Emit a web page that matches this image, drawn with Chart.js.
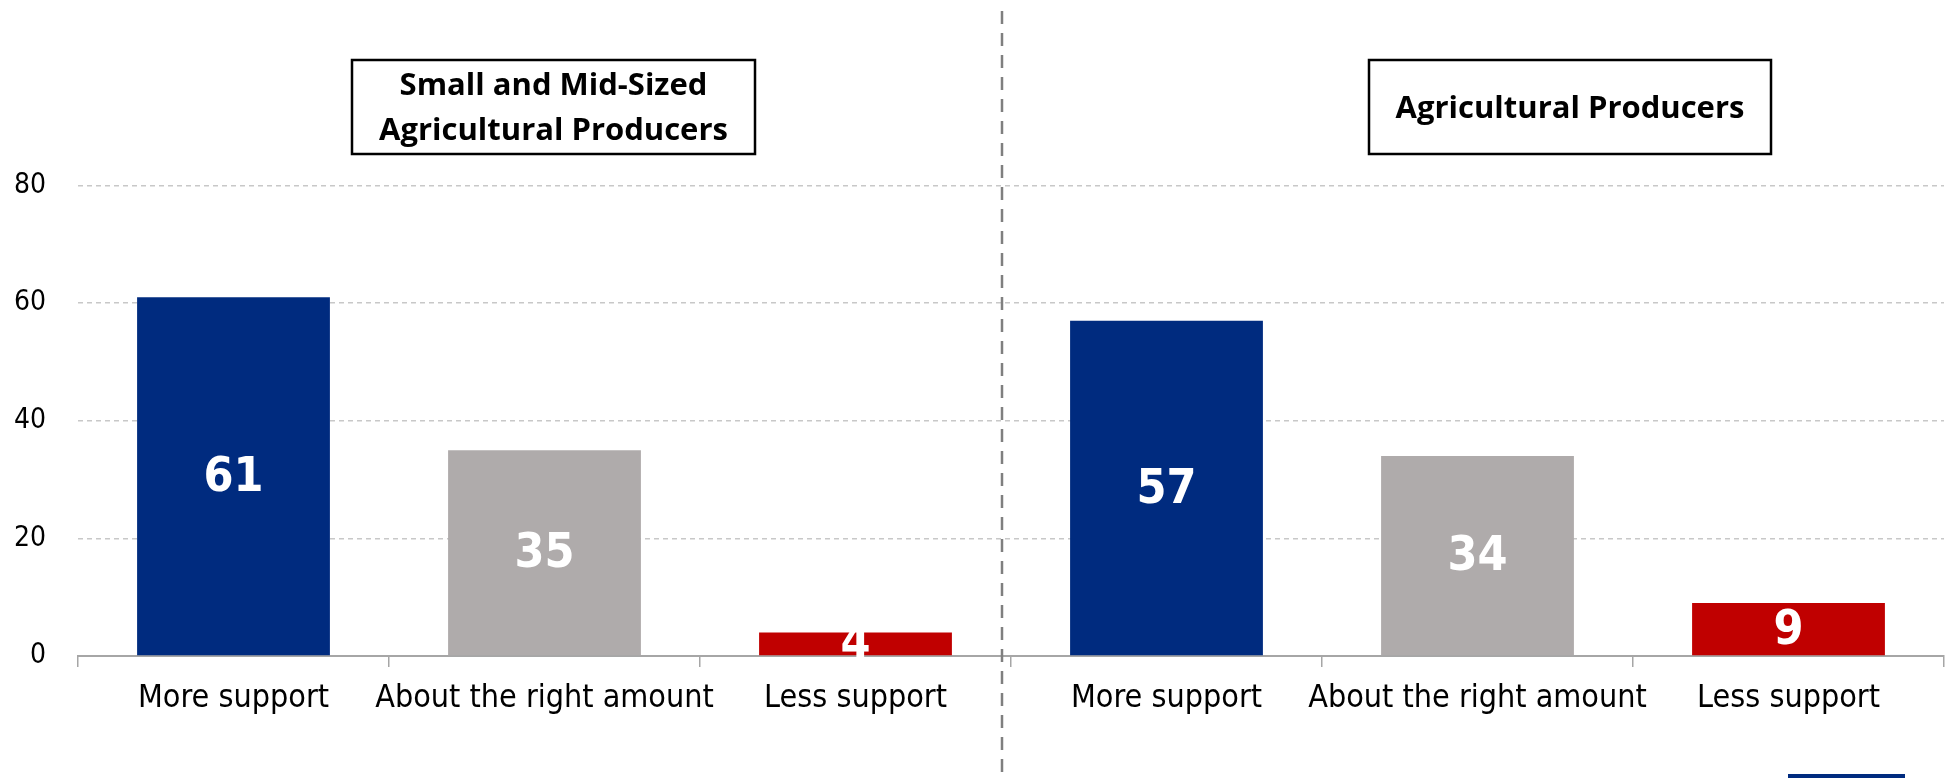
<!DOCTYPE html>
<html><head><meta charset="utf-8">
<script src="https://cdn.jsdelivr.net/npm/chart.js@4.4.1/dist/chart.umd.min.js"></script>
<style>html,body{margin:0;padding:0;background:#fff}canvas{display:block}</style>
</head><body>
<canvas id="c" width="1950" height="778"></canvas>
<script>
// ---- data ----
const categories = ['More support', 'About the right amount', 'Less support'];
const groupTitles = [['Small and Mid-Sized', 'Agricultural Producers'], ['Agricultural Producers']];
const smallMidValues = [61, 35, 4];
const producerValues = [57, 34, 9];
const yTickStep = 20;
const yMax = 100;
const barColors = ['#002B7F', '#AFABAB', '#C00000'];

const labels = [...categories, ...categories];
const values = [...smallMidValues, ...producerValues];
const colors = [...barColors, ...barColors];

const NARROW = "'Liberation Sans Narrow', 'Arial Narrow', 'DejaVu Sans Condensed', sans-serif";
const TITLEFONT = "'Open Sans', Lato, sans-serif";

const valueLabels = {
  id: 'valueLabels',
  afterDatasetsDraw(chart) {
    const ctx = chart.ctx;
    const meta = chart.getDatasetMeta(0);
    ctx.save();
    ctx.fillStyle = '#FFFFFF';
    ctx.font = "bold 48px " + NARROW;
    ctx.textAlign = 'center';
    ctx.textBaseline = 'middle';
    meta.data.forEach((bar, i) => {
      const p = bar.getProps(['x', 'y', 'base'], true);
      ctx.fillText(String(values[i]), p.x, (p.y + p.base) / 2 + 2);
    });
    ctx.restore();
  }
};

const decorations = {
  id: 'decorations',
  afterDraw(chart) {
    const ctx = chart.ctx;
    ctx.save();
    // divider between the two groups
    ctx.strokeStyle = '#7F7F7F';
    ctx.lineWidth = 2.5;
    ctx.setLineDash([13, 9]);
    ctx.beginPath();
    ctx.moveTo(1002, 11);
    ctx.lineTo(1002, 778);
    ctx.stroke();
    ctx.setLineDash([]);
    // group title boxes
    const boxes = [{x: 352, y: 60, w: 403, h: 94}, {x: 1369, y: 60, w: 402, h: 94}];
    ctx.strokeStyle = '#000';
    ctx.lineWidth = 2.5;
    ctx.fillStyle = '#000';
    ctx.font = "bold 31px " + TITLEFONT;
    ctx.textAlign = 'center';
    ctx.textBaseline = 'middle';
    boxes.forEach((b, i) => {
      ctx.strokeRect(b.x, b.y, b.w, b.h);
      const lines = groupTitles[i];
      const lh = 45;
      const cy = b.y + b.h / 2 + 2;
      lines.forEach((t, j) => {
        ctx.fillText(t, b.x + b.w / 2, cy + (j - (lines.length - 1) / 2) * lh);
      });
    });
    // cut-off blue line at the bottom right
    ctx.fillStyle = '#002B7F';
    ctx.fillRect(1788, 774, 117, 4);
    ctx.restore();
  }
};

new Chart(document.getElementById('c'), {
  type: 'bar',
  data: {
    labels: labels,
    datasets: [{
      data: values,
      backgroundColor: colors,
      borderWidth: 0,
      categoryPercentage: 1,
      barPercentage: 0.62
    }]
  },
  options: {
    responsive: false,
    animation: false,
    layout: {padding: {top: 68, right: 6, left: 0, bottom: 0}},
    plugins: {legend: {display: false}, tooltip: {enabled: false}},
    scales: {
      x: {
        afterFit(scale) { scale.height = 122; },
        grid: {drawOnChartArea: false, drawTicks: true, tickLength: 11, color: '#A6A6A6', lineWidth: 1.5},
        border: {display: true, color: '#A6A6A6', width: 2},
        ticks: {color: '#000', font: {family: NARROW, size: 32}, padding: 12, maxRotation: 0, autoSkip: false}
      },
      y: {
        min: 0, max: yMax,
        afterFit(scale) { scale.width = 78; },
        grid: {
          drawTicks: false,
          lineWidth: 1.5,
          color: (c) => (c.tick && (c.tick.value === 0 || c.tick.value === yMax)) ? 'rgba(0,0,0,0)' : '#C8C8C8'
        },
        border: {display: false, dash: [5, 4]},
        ticks: {
          stepSize: yTickStep, padding: 32, color: '#000',
          font: {family: NARROW, size: 28},
          callback: (v) => v === yMax ? '' : v
        }
      }
    }
  },
  plugins: [valueLabels, decorations]
});
</script>
</body></html>
